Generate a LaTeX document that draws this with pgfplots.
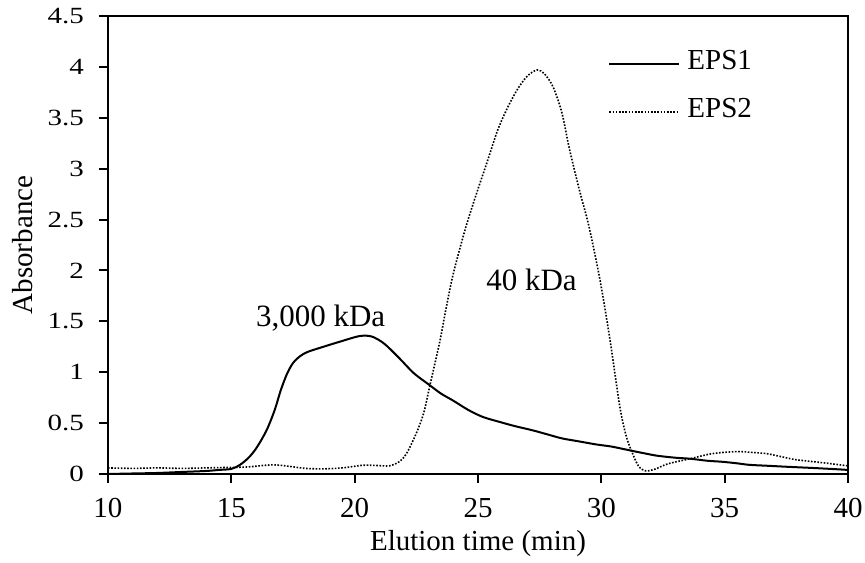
\documentclass[border=0pt]{standalone}
\usepackage{graphicx}
\usepackage{pgfplots}
\pgfplotsset{compat=1.18}
\usepackage{fontspec}
\setmainfont{Liberation Serif}
\begin{document}
\fontsize{14.5}{17}\selectfont
\begin{tikzpicture}
\begin{axis}[
  scale only axis, width=370pt, height=229pt,
  xmin=10, xmax=40, ymin=0, ymax=4.5,
  xtick={10,15,...,40}, ytick={0,0.5,...,4.5},
  tick align=outside, major tick length=4.5pt,
  xtick pos=bottom, ytick pos=left,
  /pgf/number format/assume math mode=true,
  tick label style={font=\fontsize{14.5}{17}\selectfont},
  yticklabel={\scalebox{1}[0.8]{\pgfmathprintnumber{\tick}}},
  yticklabel style={xshift=-2.5pt},
  xticklabel style={yshift=-2.5pt},
  label style={font=\fontsize{14.5}{17}\selectfont},
  xlabel={Elution time (min)}, ylabel={Absorbance},
  xlabel style={at={(axis description cs:0.5,-0.1528)}, anchor=center},
  ylabel style={at={(axis description cs:-0.1149,0.5)}, anchor=center},
  axis line style={line width=0.6pt},
  tick style={line width=1pt, black},
  legend cell align=left,
  legend style={draw=none, fill=none, at={(0.6757,0.927)}, anchor=north west,
    row sep=10pt, column sep=3.5pt, inner sep=0pt,
    nodes={inner sep=0pt, text height=10pt, text depth=4pt},
    font=\fontsize{14.5}{17}\selectfont},
  legend image code/.code={\draw[#1] (0pt,0pt) -- (35pt,0pt);},
]
\addplot[black, line width=1pt, smooth, tension=0.5] coordinates {
(10,0.00) (11,0.005) (12,0.01) (13,0.02) (14,0.03) (14.5,0.04) (15,0.05)
(15.35,0.09) (15.7,0.16) (16.03,0.26) (16.43,0.43) (16.76,0.63) (17.0,0.82)
(17.25,0.98) (17.5,1.09) (17.8,1.16) (18.1,1.2) (18.6,1.24) (19.4,1.30) (20.2,1.355)
(20.7,1.35) (21.2,1.28)
(21.8,1.14) (22.4,0.99) (23.0,0.88) (23.5,0.79) (24.0,0.72) (24.6,0.63)
(25.2,0.56) (25.9,0.51) (26.5,0.47) (27.2,0.43) (27.8,0.39) (28.4,0.35)
(29.1,0.32) (29.8,0.29) (30.4,0.27) (31.0,0.24) (31.6,0.21) (32.25,0.18)
(33.0,0.16) (33.6,0.15) (34.3,0.13) (34.9,0.12) (35.5,0.105) (36.0,0.09)
(36.8,0.08) (37.6,0.07) (38.5,0.06) (39.3,0.05) (40,0.04)
};
\addlegendentry{EPS1}
\addplot[black, line width=0.8pt, dash pattern=on 0.8pt off 0.8pt, smooth, tension=0.5] coordinates {
(10,0.06) (11,0.055) (12,0.06) (13,0.055) (14,0.06) (15,0.065) (15.7,0.07)
(16.7,0.09) (17.5,0.07) (18.0,0.055) (18.7,0.05) (19.5,0.06) (20.3,0.085)
(20.8,0.085) (21.4,0.08) (21.8,0.12) (22.1,0.2) (22.5,0.4) (22.8,0.6)
(23.05,0.87) (23.45,1.3) (23.7,1.62) (24.0,1.97) (24.5,2.42) (25.0,2.8) (25.35,3.05) (25.8,3.38)
(26.2,3.6) (26.6,3.78) (27.0,3.91) (27.4,3.97) (27.7,3.93) (28.05,3.8)
(28.4,3.55) (28.7,3.2) (29.1,2.8) (29.5,2.43) (29.95,1.9) (30.35,1.32)
(30.75,0.66) (31.0,0.38) (31.2,0.24) (31.5,0.08) (31.8,0.03) (32.2,0.05)
(32.7,0.1) (33.6,0.15) (34.5,0.2) (35.5,0.22) (36.2,0.21) (36.7,0.2)
(37.3,0.17) (37.9,0.14) (39.0,0.11) (40,0.08)
};
\addlegendentry{EPS2}
\node[anchor=base, font=\fontsize{15.5}{18}\selectfont] at (axis cs:18.62,1.447) {3,000 kDa};
\node[anchor=base, font=\fontsize{15.5}{18}\selectfont] at (axis cs:27.17,1.80) {40 kDa};
\draw[line width=1pt] (rel axis cs:0,1) -- (rel axis cs:0,0) -- (rel axis cs:1,0);
\end{axis}
\pgfresetboundingbox
\path (current axis.south west) ++(-54pt,-44.5pt) coordinate (bl);
\path (current axis.north east) ++(8.5pt,8pt) coordinate (tr);
\path[use as bounding box] (bl) rectangle (tr);
\end{tikzpicture}
\end{document}
